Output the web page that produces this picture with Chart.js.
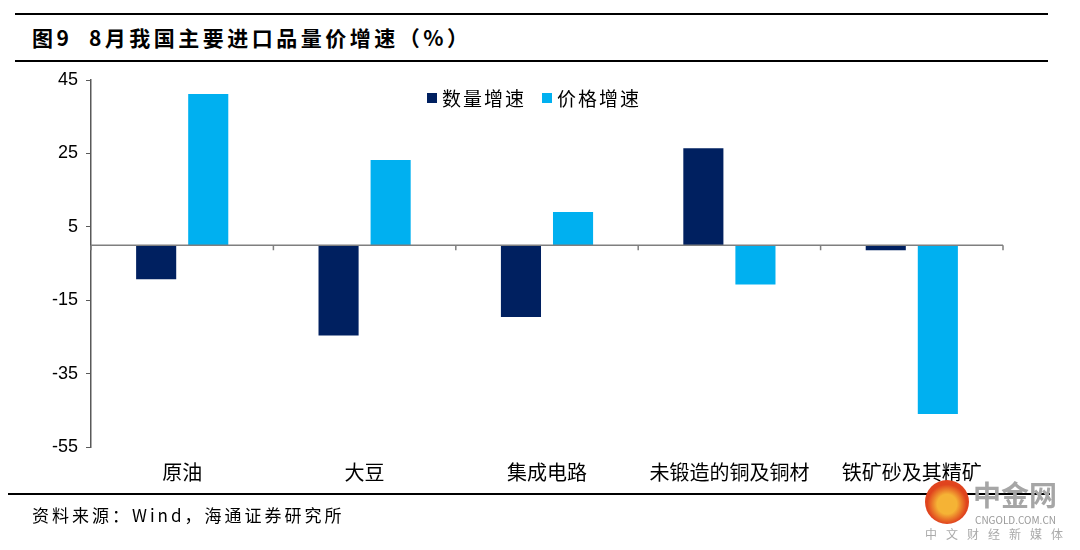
<!DOCTYPE html>
<html>
<head>
<meta charset="utf-8">
<script src="https://cdn.jsdelivr.net/npm/chart.js@4"></script>
<style>
  body { margin: 0; width: 1080px; height: 550px; background: #fff; position: relative; overflow: hidden;
         font-family: "Noto Sans CJK SC", "Noto Sans", sans-serif; }
  .rule { position: absolute; background: #000; height: 2px; }
  #title { position: absolute; left: 32px; top: 22px; font-size: 21px; font-weight: bold; color: #000; letter-spacing: 3.5px; white-space: nowrap; }
  #source { position: absolute; left: 32px; top: 502px; font-size: 17px; color: #000; letter-spacing: 3px; white-space: nowrap; }
  #legend { position: absolute; left: 427px; top: 84px; font-size: 19px; color: #000; display: flex; letter-spacing: 2px; }
  #legend span.item { display: flex; align-items: center; margin-right: 16px; }
  #legend i { display: inline-block; width: 10px; height: 10px; margin-right: 5px; }
  #mark { position: absolute; left: 925px; top: 480px; }
  #chartWrap { position: absolute; left: 0; top: 0; width: 1080px; height: 550px; }
</style>
</head>
<body>
<div class="rule" style="left:15px;width:1033px;top:13px;"></div>
<div id="title">图9&nbsp;&nbsp;8月我国主要进口品量价增速（%）</div>
<div class="rule" style="left:15px;width:1033px;top:60px;"></div>
<div id="chartWrap"><canvas id="myChart"></canvas></div>
<div id="legend"></div>
<div class="rule" style="left:8px;width:1042px;top:493px;"></div>
<div id="source">资料来源：Wind，海通证券研究所</div>
<div id="mark">
  <div style="position:absolute;left:0;top:0;width:44px;height:44px;border-radius:22px;background:radial-gradient(circle at 50% 55%, #f5b335 0 30%, #e0441e 60%);"></div>
  <div style="position:absolute;left:48px;top:-6px;font-size:28px;font-weight:bold;color:#a6a6a6;white-space:nowrap;">中金网</div>
  <div style="position:absolute;left:50px;top:32px;font-size:10px;color:#999;white-space:nowrap;">CNGOLD.COM.CN</div>
  <div style="position:absolute;left:0;top:45px;font-size:12px;color:#aaa;letter-spacing:9px;white-space:nowrap;">中文财经新媒体</div>
</div>

<script>
// data
const categories = ['原油', '大豆', '集成电路', '未锻造的铜及铜材', '铁矿砂及其精矿'];
const seriesNames = ['数量增速', '价格增速'];
const quantityGrowth = [-9.3, -24.6, -19.6, 26.4, -1.4];
const priceGrowth = [41.2, 23.2, 9.0, -10.7, -46.0];
const yTicks = [45, 25, 5, -15, -35, -55];
const colors = ['#002060', '#00B0F0'];

// html legend
const legendEl = document.getElementById('legend');
seriesNames.forEach((name, i) => {
  const item = document.createElement('span');
  item.className = 'item';
  item.innerHTML = '<i style="background:' + colors[i] + '"></i>' + name;
  legendEl.appendChild(item);
});

// zero line with short category ticks below it
const zeroAxisPlugin = {
  id: 'zeroAxis',
  afterDatasetsDraw(chart) {
    const ctx = chart.ctx;
    const x = chart.scales.x;
    const y0 = chart.scales.y.getPixelForValue(0);
    ctx.save();
    ctx.strokeStyle = '#7f7f7f';
    ctx.lineWidth = 1.5;
    ctx.beginPath();
    ctx.moveTo(chart.chartArea.left, y0);
    ctx.lineTo(chart.chartArea.right, y0);
    const half = (x.getPixelForValue(1) - x.getPixelForValue(0)) / 2;
    for (let i = 0; i <= categories.length; i++) {
      const px = x.getPixelForValue(0) - half + i * half * 2;
      ctx.moveTo(px, y0);
      ctx.lineTo(px, y0 + 5);
    }
    ctx.stroke();
    ctx.restore();
  }
};

const chart = new Chart(document.getElementById('myChart').getContext('2d'), {
  type: 'bar',
  data: {
    labels: categories,
    datasets: [
      { label: seriesNames[0], data: quantityGrowth, backgroundColor: colors[0] },
      { label: seriesNames[1], data: priceGrowth, backgroundColor: colors[1] }
    ]
  },
  options: {
    responsive: true,
    maintainAspectRatio: false,
    animation: false,
    layout: { padding: { top: 80, right: 77, bottom: 47, left: 0 } },
    categoryPercentage: 0.571,
    barPercentage: 0.77,
    plugins: { legend: { display: false }, tooltip: { enabled: false } },
    scales: {
      x: {
        grid: { display: false },
        border: { display: false },
        ticks: { color: '#000', font: { family: '"Noto Sans CJK SC"', size: 20 }, padding: 5, maxRotation: 0 },
        afterFit(scale) { scale.height = 56; }
      },
      y: {
        min: -55,
        max: 45,
        afterBuildTicks(scale) { scale.ticks = yTicks.map(v => ({ value: v })); },
        afterFit(scale) { scale.width = 91; },
        grid: { drawOnChartArea: false, tickLength: 5, tickColor: '#595959' },
        border: { color: '#595959', width: 1.5 },
        ticks: { color: '#000', font: { family: '"Liberation Sans", Arial', size: 18 }, padding: 8 }
      }
    }
  },
  plugins: [zeroAxisPlugin]
});
</script>
</body>
</html>
